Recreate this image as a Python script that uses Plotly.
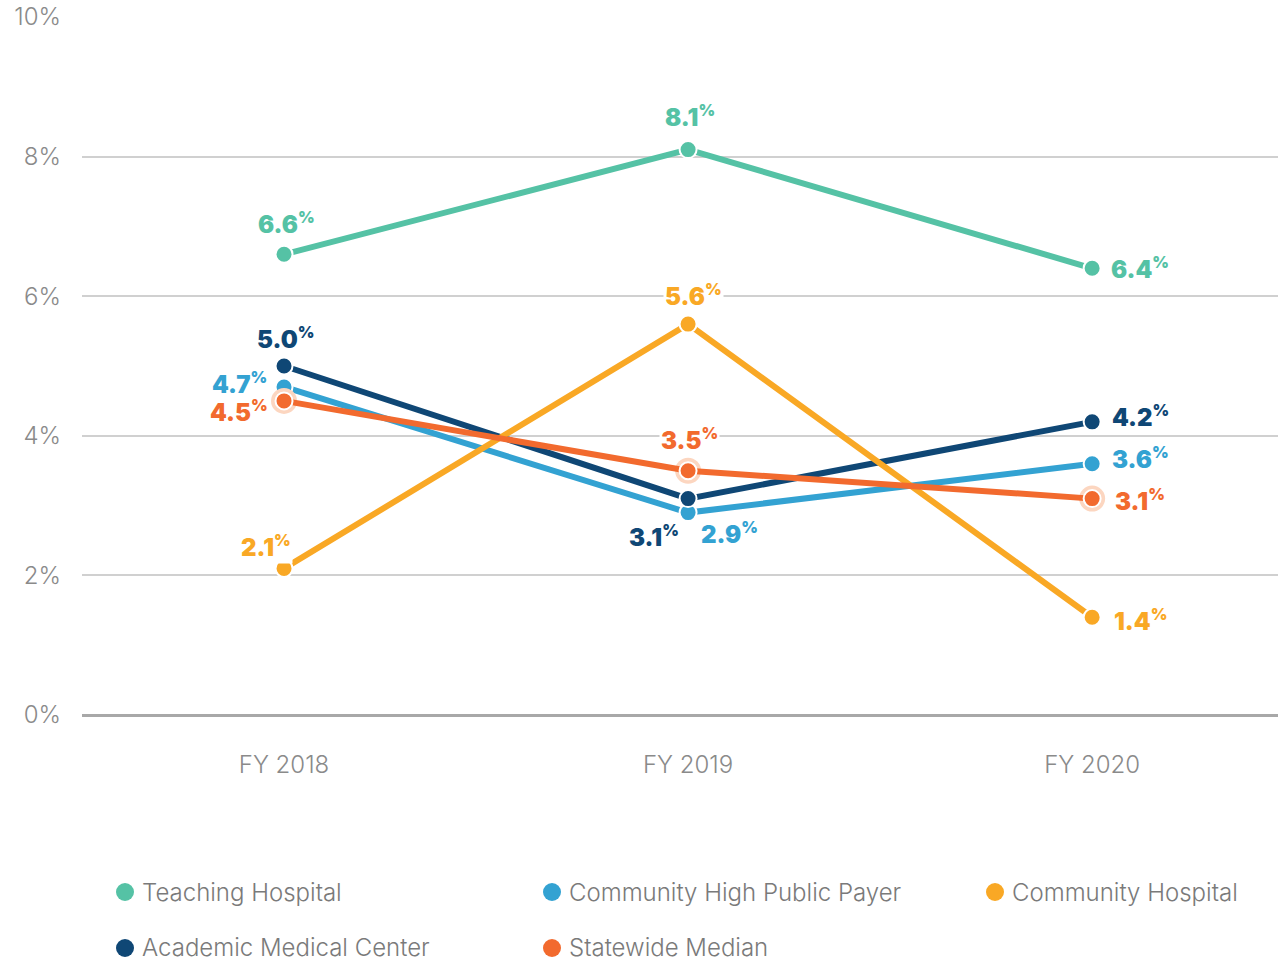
import plotly.graph_objects as go

categories = ["FY 2018", "FY 2019", "FY 2020"]
series_names = ["Teaching Hospital", "Community High Public Payer", "Academic Medical Center",
                "Community Hospital", "Statewide Median"]
teaching = [6.6, 8.1, 6.4]
chpp = [4.7, 2.9, 3.6]
academic = [5.0, 3.1, 4.2]
community = [2.1, 5.6, 1.4]
statewide = [4.5, 3.5, 3.1]
y_ticks = [0, 2, 4, 6, 8, 10]

colors = {
    "Teaching Hospital": "#55c2a5",
    "Community High Public Payer": "#33a2d2",
    "Academic Medical Center": "#0f4775",
    "Community Hospital": "#f9a825",
    "Statewide Median": "#f26a2e",
}
values = {
    "Teaching Hospital": teaching,
    "Community High Public Payer": chpp,
    "Academic Medical Center": academic,
    "Community Hospital": community,
    "Statewide Median": statewide,
}
# label offsets (px) per series per point
offsets = {
    "Teaching Hospital": [(2, 31), (2, 34), (48, 0)],
    "Community High Public Payer": [(-45, 4), (41, -20), (48, 6)],
    "Academic Medical Center": [(1, 28), (-34, -37), (48, 6)],
    "Community Hospital": [(-18, 22), (5, 29), (48, -3)],
    "Statewide Median": [(-45, -10), (1, 32), (48, -1)],
}

fig = go.Figure()

for name in series_names:
    if name == "Statewide Median":
        fig.add_trace(go.Scatter(x=categories, y=values[name], mode="markers",
                                 marker=dict(size=26, color="#fcd6c0"),
                                 showlegend=False, hoverinfo="skip"))
    fig.add_trace(go.Scatter(
        x=categories, y=values[name], mode="lines+markers", name=name,
        line=dict(color=colors[name], width=6),
        marker=dict(size=17, color=colors[name], line=dict(color="white", width=2)),
        showlegend=False))

for name in series_names:
    for i, (cat, v) in enumerate(zip(categories, values[name])):
        dx, dy = offsets[name][i]
        fig.add_annotation(
            x=cat, y=v, xref="x", yref="y", showarrow=False,
            text=f"{v:.1f}<sup><span style='font-size:16px'>%</span></sup>",
            font=dict(color=colors[name], family="Inter, Roboto, sans-serif", size=24, weight=900),
            xshift=dx, yshift=dy, bgcolor="white", borderpad=1,
        )

# manual legend
legend_order = ["Teaching Hospital", "Community High Public Payer", "Community Hospital",
                "Academic Medical Center", "Statewide Median"]
legend_pos = [(125, 892), (552, 892), (995, 892), (125, 948), (552, 948)]
L, R, T, B = 82, 0, 17, 248
W, H = 1278, 963
pw, ph = W - L - R, H - T - B
for name, (px, py) in zip(legend_order, legend_pos):
    xp = (px - L) / pw
    yp = (H - B - py) / ph
    fig.add_shape(type="circle", xref="paper", yref="paper", xsizemode="pixel", ysizemode="pixel",
                  xanchor=xp, yanchor=yp, x0=-9, x1=9, y0=-9, y1=9,
                  fillcolor=colors[name], line=dict(width=0))
    fig.add_annotation(x=(px + 16 - L) / pw, y=yp, xref="paper", yref="paper",
                       text=name, showarrow=False, xanchor="left", yanchor="middle",
                       borderpad=0,
                       font=dict(family="Inter, Roboto, sans-serif", size=24, color="#7a7a7a",
                                 weight=300))

fig.update_layout(
    width=W, height=H,
    margin=dict(l=L, r=R, t=T, b=B),
    plot_bgcolor="white", paper_bgcolor="white",
    font=dict(family="Inter, Roboto, sans-serif", color="#8a8a8a", size=24, weight=300),
    showlegend=False,
)
fig.update_xaxes(type="category", range=[-0.5, 2.46], showgrid=False, showline=False,
                 zeroline=False, ticks="", ticklabelstandoff=33,
                 tickfont=dict(size=24, color="#8a8a8a", weight=300))
fig.update_yaxes(range=[0, 10], tickvals=y_ticks, ticktext=[f"{t}%" for t in y_ticks],
                 showgrid=True, gridcolor="#d0d0d0", gridwidth=1.5,
                 zeroline=True, zerolinecolor="#a8a8a8", zerolinewidth=2.5,
                 showline=False, ticks="", ticklabelstandoff=20,
                 tickfont=dict(size=24, color="#8a8a8a", weight=300))

fig.write_html("out.html", config={"displayModeBar": False},
               post_script="document.body.style.margin='0px';")
